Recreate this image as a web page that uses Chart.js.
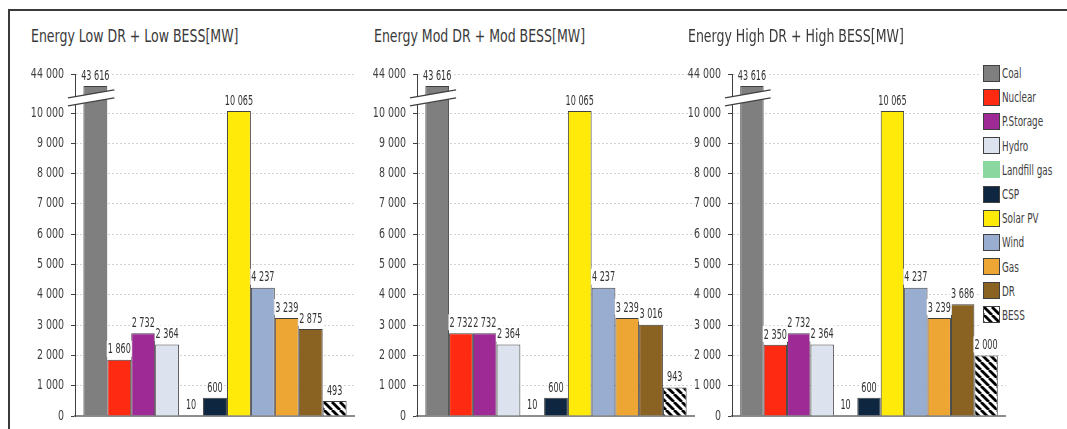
<!DOCTYPE html>
<html>
<head>
<meta charset="utf-8">
<script src="https://cdn.jsdelivr.net/npm/chart.js@4.4.1/dist/chart.umd.min.js"></script>
<style>
  html, body { margin: 0; padding: 0; background: #fff; }
  body {
    width: 1067px; height: 429px; position: relative; overflow: hidden;
    font-family: 'Liberation Sans Narrow', 'DejaVu Sans Condensed', 'Roboto', sans-serif;
    color: #404040;
  }
  .frame {
    position: absolute; left: 8px; top: 9px; width: 1200px; height: 600px;
    border-top: 2px solid #3a3a3a; border-left: 2px solid #3a3a3a;
  }
  .title {
    position: absolute; top: 26px; font-size: 17px; white-space: nowrap; color: #3a3a3a;
    transform: scaleX(0.82); transform-origin: left center;
  }
  .panel { position: absolute; }
  #legend { position: absolute; left: 981px; top: 61px; width: 100px; background: #fff; padding-left: 2px; }
  .item { height: 24.2px; display: flex; align-items: center; font-size: 14px; white-space: nowrap; }
  .item span.txt { display: inline-block; transform: scaleX(0.7); transform-origin: left center; }
  .sw { width: 17px; height: 17px; box-sizing: border-box; border: 1px solid #404040; margin-right: 2px; flex: none; }
</style>
</head>
<body>
<div class="frame"></div>
<div id="legend"></div>

<script>
const FONT = "'Liberation Sans Narrow', 'DejaVu Sans Condensed', 'Roboto', sans-serif";

// data
const categories = ['Coal', 'Nuclear', 'P.Storage', 'Hydro', 'Landfill gas', 'CSP', 'Solar PV', 'Wind', 'Gas', 'DR', 'BESS'];
const lowValues  = [43616, 1860, 2732, 2364, 10, 600, 10065, 4237, 3239, 2875, 493];
const modValues  = [43616, 2732, 2732, 2364, 10, 600, 10065, 4237, 3239, 3016, 943];
const highValues = [43616, 2350, 2732, 2364, 10, 600, 10065, 4237, 3239, 3686, 2000];
const panelTitles = ['Energy Low DR + Low BESS[MW]', 'Energy Mod DR + Mod BESS[MW]', 'Energy High DR + High BESS[MW]'];
const yTicks = [0, 1000, 2000, 3000, 4000, 5000, 6000, 7000, 8000, 9000, 10000, 44000];

const barColors = ['#7f7f7f', '#ff2a12', '#9e2a96', '#dde3ee', '#8ad8a0', '#0f2640', '#ffea0a', '#99add0', '#eda634', '#8a6222', null];

// broken axis: everything above AXIS_BREAK is squeezed into the top band
const AXIS_BREAK = 10500;
const BREAK_TICK_AT = 11290;
const BREAK_BAR_AT = 10890;

// the original uses a narrow face; squeeze the condensed one to match
const TICK_SQUEEZE = 0.78;
const LABEL_SQUEEZE = 0.62;

function fmt(n) {
  return String(n).replace(/\B(?=(\d{3})+(?!\d))/g, ' ');
}

function tickPos(v) {
  return v > AXIS_BREAK ? BREAK_TICK_AT : v;
}

function barPos(v) {
  return v > AXIS_BREAK ? BREAK_BAR_AT : v;
}

// black/white "\\\" hatch for BESS
function makeHatchCanvas() {
  const c = document.createElement('canvas');
  c.width = 8; c.height = 8;
  const g = c.getContext('2d');
  g.fillStyle = '#fff';
  g.fillRect(0, 0, 8, 8);
  g.strokeStyle = '#000';
  g.lineWidth = 2.8;
  [-8, 0, 8].forEach(k => {
    g.beginPath();
    g.moveTo(k, 0);
    g.lineTo(k + 8, 8);
    g.stroke();
  });
  return c;
}

const hatchCanvas = makeHatchCanvas();

// value above each bar on a white box
const valueLabels = {
  id: 'valueLabels',
  afterDatasetsDraw(chart) {
    const ctx = chart.ctx;
    ctx.save();
    ctx.font = '14.5px ' + FONT;
    ctx.textAlign = 'center';
    ctx.textBaseline = 'middle';
    chart.data.datasets.forEach((ds, i) => {
      const bar = chart.getDatasetMeta(i).data[0];
      const txt = fmt(ds.raw);
      const w = ctx.measureText(txt).width * LABEL_SQUEEZE + 2;
      const y = bar.y - 11;
      ctx.fillStyle = '#fff';
      ctx.fillRect(bar.x - w / 2, y - 8, w, 16);
      ctx.save();
      ctx.translate(bar.x, y + 1);
      ctx.scale(LABEL_SQUEEZE, 1);
      ctx.fillStyle = '#333';
      ctx.fillText(txt, 0, 0);
      ctx.restore();
    });
    ctx.restore();
  }
};

const axisBreak = {
  id: 'axisBreak',
  afterDraw(chart) {
    const ctx = chart.ctx;
    const x0 = chart.chartArea.left - 7;
    let x1 = x0 + 20;
    chart.data.datasets.forEach((ds, i) => {
      if (ds.raw > AXIS_BREAK) {
        const b = chart.getDatasetMeta(i).data[0];
        x1 = Math.max(x1, b.x + b.width / 2 + 7);
      }
    });
    const yc = chart.scales.y.getPixelForValue(AXIS_BREAK);
    const xm = (x0 + x1) / 2;
    const slope = 8 / 46;
    const yAt = (x, off) => yc - slope * (x - xm) + off;

    ctx.save();
    ctx.fillStyle = '#fff';
    ctx.beginPath();
    ctx.moveTo(x0, yAt(x0, -4));
    ctx.lineTo(x1, yAt(x1, -4));
    ctx.lineTo(x1, yAt(x1, 4));
    ctx.lineTo(x0, yAt(x0, 4));
    ctx.closePath();
    ctx.fill();
    ctx.strokeStyle = '#404040';
    ctx.lineWidth = 1.2;
    [-4, 4].forEach(off => {
      ctx.beginPath();
      ctx.moveTo(x0, yAt(x0, off));
      ctx.lineTo(x1, yAt(x1, off));
      ctx.stroke();
    });
    ctx.restore();
  }
};

// narrow the y tick labels around their common right edge
function narrowTicks(s) {
  s.width = 55;
  if (s._narrowed) return;
  s._narrowed = true;
  const orig = s.drawLabels.bind(s);
  s.drawLabels = area => {
    const ctx = s.ctx;
    const ax = s.right - s.options.grid.tickLength - s.options.ticks.padding;
    ctx.save();
    ctx.translate(ax, 0);
    ctx.scale(TICK_SQUEEZE, 1);
    ctx.translate(-ax, 0);
    orig(area);
    ctx.restore();
  };
}

function buildPanel(values, title, axisX, right, titleX) {
  const top = 50;
  const left = axisX - 55;
  const width = right - left;
  const height = 386;

  const box = document.createElement('div');
  box.className = 'panel';
  box.style.left = left + 'px';
  box.style.top = top + 'px';
  const canvas = document.createElement('canvas');
  canvas.width = width;
  canvas.height = height;
  box.appendChild(canvas);
  document.body.insertBefore(box, document.getElementById('legend'));

  const t = document.createElement('div');
  t.className = 'title';
  t.style.left = titleX + 'px';
  t.textContent = title;
  document.body.appendChild(t);

  const hatch = canvas.getContext('2d').createPattern(hatchCanvas, 'repeat');

  return new Chart(canvas, {
    type: 'bar',
    data: {
      labels: [''],
      datasets: categories.map((name, i) => ({
        label: name,
        data: [barPos(values[i])],
        raw: values[i],
        backgroundColor: barColors[i] || hatch,
        borderColor: name === 'Landfill gas' ? barColors[i] : '#404040',
        borderWidth: 1,
        borderSkipped: name === 'Landfill gas' ? false : 'start',
        barPercentage: 1,
        categoryPercentage: 0.94
      }))
    },
    options: {
      responsive: false,
      animation: false,
      devicePixelRatio: 1,
      layout: { padding: { top: 24, bottom: 20, left: 0, right: 0 } },
      plugins: {
        legend: { display: false },
        tooltip: { enabled: false }
      },
      scales: {
        x: {
          grid: { display: false },
          ticks: { display: false },
          border: { display: true, color: '#8c8c8c', width: 2 },
          afterFit: s => { s.height = 0; }
        },
        y: {
          min: 0,
          max: BREAK_TICK_AT,
          afterBuildTicks: s => { s.ticks = yTicks.map(v => ({ value: tickPos(v) })); },
          afterFit: narrowTicks,
          ticks: {
            callback: (val, idx) => fmt(yTicks[idx]),
            color: '#404040',
            font: { family: FONT, size: 13.5 },
            padding: 7
          },
          grid: {
            color: '#d2d2d2',
            lineWidth: 1,
            tickLength: 4,
            tickColor: '#404040'
          },
          border: { display: true, color: '#404040', width: 1, dash: [2, 2] }
        }
      }
    },
    plugins: [valueLabels, axisBreak]
  });
}

buildPanel(lowValues, panelTitles[0], 75, 355, 31);
buildPanel(modValues, panelTitles[1], 417, 695, 374);
buildPanel(highValues, panelTitles[2], 732, 1006, 688);

// legend
const legend = document.getElementById('legend');
categories.forEach((name, i) => {
  const row = document.createElement('div');
  row.className = 'item';
  const sw = document.createElement('span');
  sw.className = 'sw';
  if (barColors[i]) {
    sw.style.background = barColors[i];
  } else {
    sw.style.backgroundImage = 'url(' + hatchCanvas.toDataURL() + ')';
  }
  if (name === 'Landfill gas') sw.style.borderColor = barColors[i];
  const txt = document.createElement('span');
  txt.className = 'txt';
  txt.textContent = name;
  row.appendChild(sw);
  row.appendChild(txt);
  legend.appendChild(row);
});
</script>
</body>
</html>
